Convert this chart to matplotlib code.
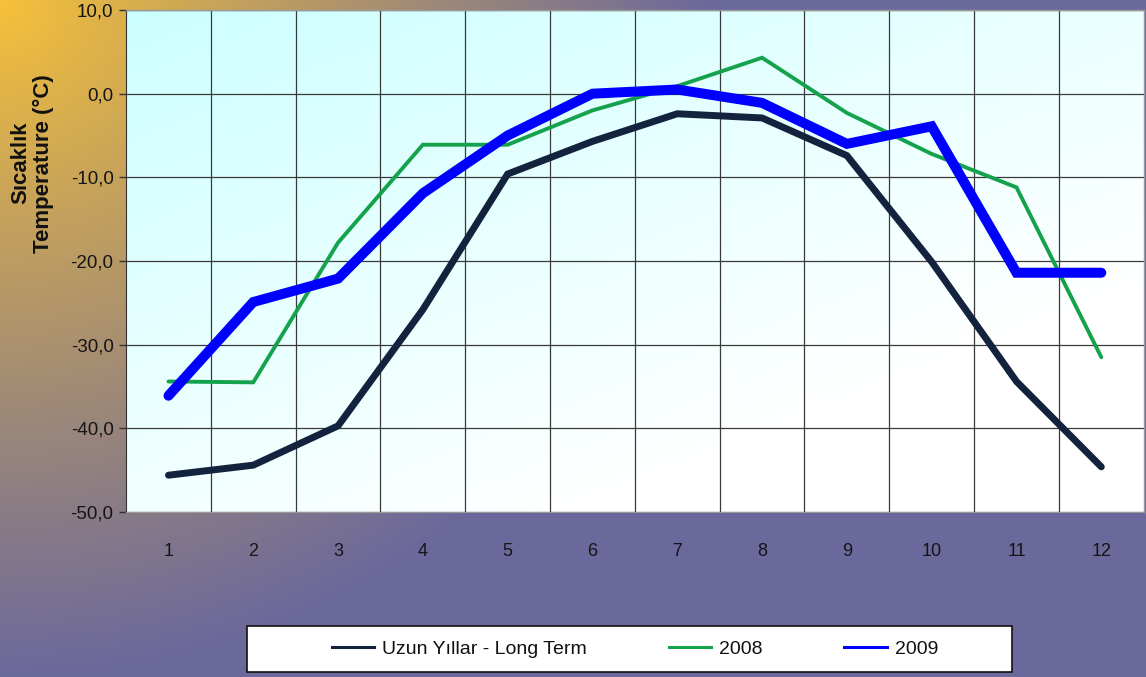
import numpy as np
import matplotlib
matplotlib.use('Agg')
import matplotlib.pyplot as plt
from matplotlib.patches import Rectangle

plt.rcParams['font.family'] = ['Liberation Sans', 'DejaVu Sans']

# Data
months = [1, 2, 3, 4, 5, 6, 7, 8, 9, 10, 11, 12]
long_term = [-45.6, -44.4, -39.7, -25.8, -9.6, -5.7, -2.4, -2.9, -7.4, -20.1, -34.4, -44.6]
y2008 = [-34.4, -34.5, -17.8, -6.1, -6.1, -2.0, 0.9, 4.3, -2.3, -7.2, -11.2, -31.5]
y2009 = [-36.1, -24.9, -22.1, -11.9, -5.0, 0.0, 0.5, -1.1, -6.0, -3.9, -21.4, -21.4]
y_ticks = [10, 0, -10, -20, -30, -40, -50]
y_tick_labels = ['10,0', '0,0', '-10,0', '-20,0', '-30,0', '-40,0', '-50,0']

labels = ['Uzun Yıllar - Long Term', '2008', '2009']
colors = ['#13233d', '#14a24c', '#0000ff']
widths = [5.0, 2.8, 7.2]

fig = plt.figure(figsize=(11.46, 6.77), dpi=100)

# background gradient: orange in the top-left corner, purple elsewhere
bg = fig.add_axes([0, 0, 1, 1], zorder=-5)
h, w = 300, 500
yy, xx = np.mgrid[0:h, 0:w]
d = np.sqrt((xx / w * 1.6) ** 2 + (yy / h) ** 2)
t = np.clip(d / 1.0, 0, 1) ** 0.9
c0 = np.array([0.97, 0.76, 0.22])
c1 = np.array([0.42, 0.41, 0.61])
img = c0[None, None, :] * (1 - t[..., None]) + c1[None, None, :] * t[..., None]
bg.imshow(img, aspect='auto', extent=[0, 1, 0, 1], origin='upper')
bg.axis('off')

ax = fig.add_axes([0.110, 0.2437, 0.888, 0.7415])
ax.set_xlim(0.5, 12.5)
ax.set_ylim(-50, 10)

# plot area gradient: cyan top-left fading to white
ph, pw = 200, 300
py, px = np.mgrid[0:ph, 0:pw]
s = np.clip(0.75 * py / ph + 0.6 * px / pw, 0, 1)
ca = np.array([0.80, 1.0, 1.0])
cb = np.array([1.0, 1.0, 1.0])
pimg = ca[None, None, :] * (1 - s[..., None]) + cb[None, None, :] * s[..., None]
ax.imshow(pimg, aspect='auto', extent=[0.5, 12.5, -50, 10], origin='upper', zorder=0)

for yv in y_ticks:
    ax.axhline(yv, color='#3a3a3a', lw=0.9, zorder=1)
for xv in np.arange(1.5, 12.5, 1.0):
    ax.axvline(xv, color='#3a3a3a', lw=0.9, zorder=1)

for data, lab, col, lw in zip([long_term, y2008, y2009], labels, colors, widths):
    ax.plot(months, data, color=col, lw=lw, label=lab, solid_capstyle='round',
            solid_joinstyle='miter', zorder=3)

ax.set_xticks(months)
ax.set_xticklabels([str(m) for m in months], fontsize=13, color='#151515')
ax.set_yticks(y_ticks)
ax.set_yticklabels(y_tick_labels, fontsize=13.5, color='#151515')
ax.tick_params(axis='x', length=0, pad=22)
ax.tick_params(axis='y', length=5, width=1, color='#333333', pad=4)
for sp in ['top', 'right']:
    ax.spines[sp].set_color('#999999')
    ax.spines[sp].set_linewidth(1)
ax.spines['left'].set_color('#333333')
ax.spines['bottom'].set_color('#999999')

fig.text(0.028, 0.759, 'Sıcaklık\nTemperature (°C)', rotation=90, ha='center', va='center',
         fontsize=16, fontweight='bold', color='#111111', linespacing=1.1)

# legend box drawn separately so it can sit off-centre like the original
fig.patches.append(Rectangle((0.2155, 0.0074), 0.6675, 0.068, transform=fig.transFigure,
                             facecolor='white', edgecolor='#111111', lw=1.2, zorder=1))
handles = [plt.Line2D([0], [0], color=c, lw=2.2) for c in colors]
leg = fig.legend(handles, labels, loc='center', bbox_to_anchor=(0.554, 0.0414), ncol=3,
                 frameon=False, fontsize=14, handlelength=2.2,
                 handletextpad=0.4, columnspacing=4.2)
for txt in leg.get_texts():
    txt.set_color('#111111')

fig.savefig('out.png', dpi=100)
